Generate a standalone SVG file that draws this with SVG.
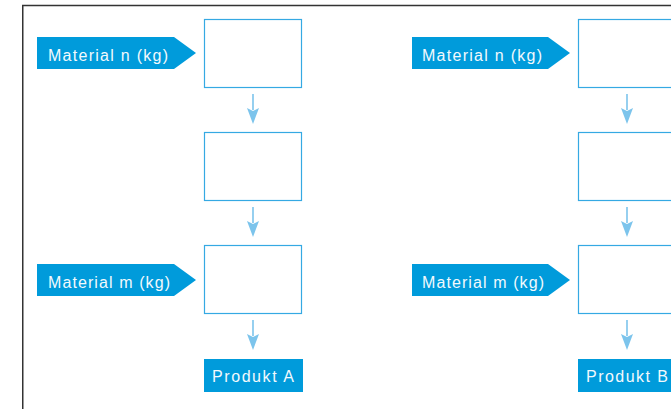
<svg xmlns="http://www.w3.org/2000/svg" width="671" height="409" viewBox="0 0 671 409">
<style>
.frame{fill:none;stroke:#333;stroke-width:1.5}
.box{fill:#fff;stroke:#35a9e3;stroke-width:1.2}
.lab{fill:#009bdb}
.txt{font-family:"Liberation Sans",Arial,sans-serif;font-size:16px;fill:#f2f9fd}
.con{stroke:#7cc4ec;stroke-width:1.6;fill:none}
.ah{fill:#7cc4ec}
</style>
<rect width="671" height="409" fill="#fff"/>
<path class="frame" d="M22.75,409 V5.5 H671"/>
<g id="connectors">
<line class="con" x1="253" y1="94" x2="253" y2="110"/>
<path class="ah" d="M247,108 L253,111 L259,108 L253,124 Z"/>
<line class="con" x1="253" y1="207" x2="253" y2="223"/>
<path class="ah" d="M247,221 L253,224 L259,221 L253,237 Z"/>
<line class="con" x1="253" y1="320" x2="253" y2="336"/>
<path class="ah" d="M247,334 L253,337 L259,334 L253,350 Z"/>
<line class="con" x1="627" y1="94" x2="627" y2="110"/>
<path class="ah" d="M621,108 L627,111 L633,108 L627,124 Z"/>
<line class="con" x1="627" y1="207" x2="627" y2="223"/>
<path class="ah" d="M621,221 L627,224 L633,221 L627,237 Z"/>
<line class="con" x1="627" y1="320" x2="627" y2="336"/>
<path class="ah" d="M621,334 L627,337 L633,334 L627,350 Z"/>
</g>
<g id="matA1"><polygon class="lab" points="37,37 174,37 196,53 174,69 37,69"/><text class="txt" x="48" y="60.5" textLength="120" lengthAdjust="spacing">Material n (kg)</text></g>
<g id="matA2"><polygon class="lab" points="37,264 174,264 196,280 174,296 37,296"/><text class="txt" x="48" y="287.5" textLength="122" lengthAdjust="spacing">Material m (kg)</text></g>
<g id="boxA1"><rect class="box" x="204.5" y="19.5" width="97" height="68"/></g>
<g id="boxA2"><rect class="box" x="204.5" y="132.5" width="97" height="68"/></g>
<g id="boxA3"><rect class="box" x="204.5" y="245.5" width="97" height="68"/></g>
<g id="prodA"><rect class="lab" x="204" y="359" width="99" height="33"/><text class="txt" x="212" y="381.5" textLength="82" lengthAdjust="spacing">Produkt A</text></g>
<g id="matB1"><polygon class="lab" points="412,37 548,37 570,53 548,69 412,69"/><text class="txt" x="422" y="60.5" textLength="120" lengthAdjust="spacing">Material n (kg)</text></g>
<g id="matB2"><polygon class="lab" points="412,264 548,264 570,280 548,296 412,296"/><text class="txt" x="422" y="287.5" textLength="122" lengthAdjust="spacing">Material m (kg)</text></g>
<g id="boxB1"><rect class="box" x="578.5" y="19.5" width="97" height="68"/></g>
<g id="boxB2"><rect class="box" x="578.5" y="132.5" width="97" height="68"/></g>
<g id="boxB3"><rect class="box" x="578.5" y="245.5" width="97" height="68"/></g>
<g id="prodB"><rect class="lab" x="578" y="359" width="99" height="33"/><text class="txt" x="586" y="381.5" textLength="82" lengthAdjust="spacing">Produkt B</text></g>
</svg>
